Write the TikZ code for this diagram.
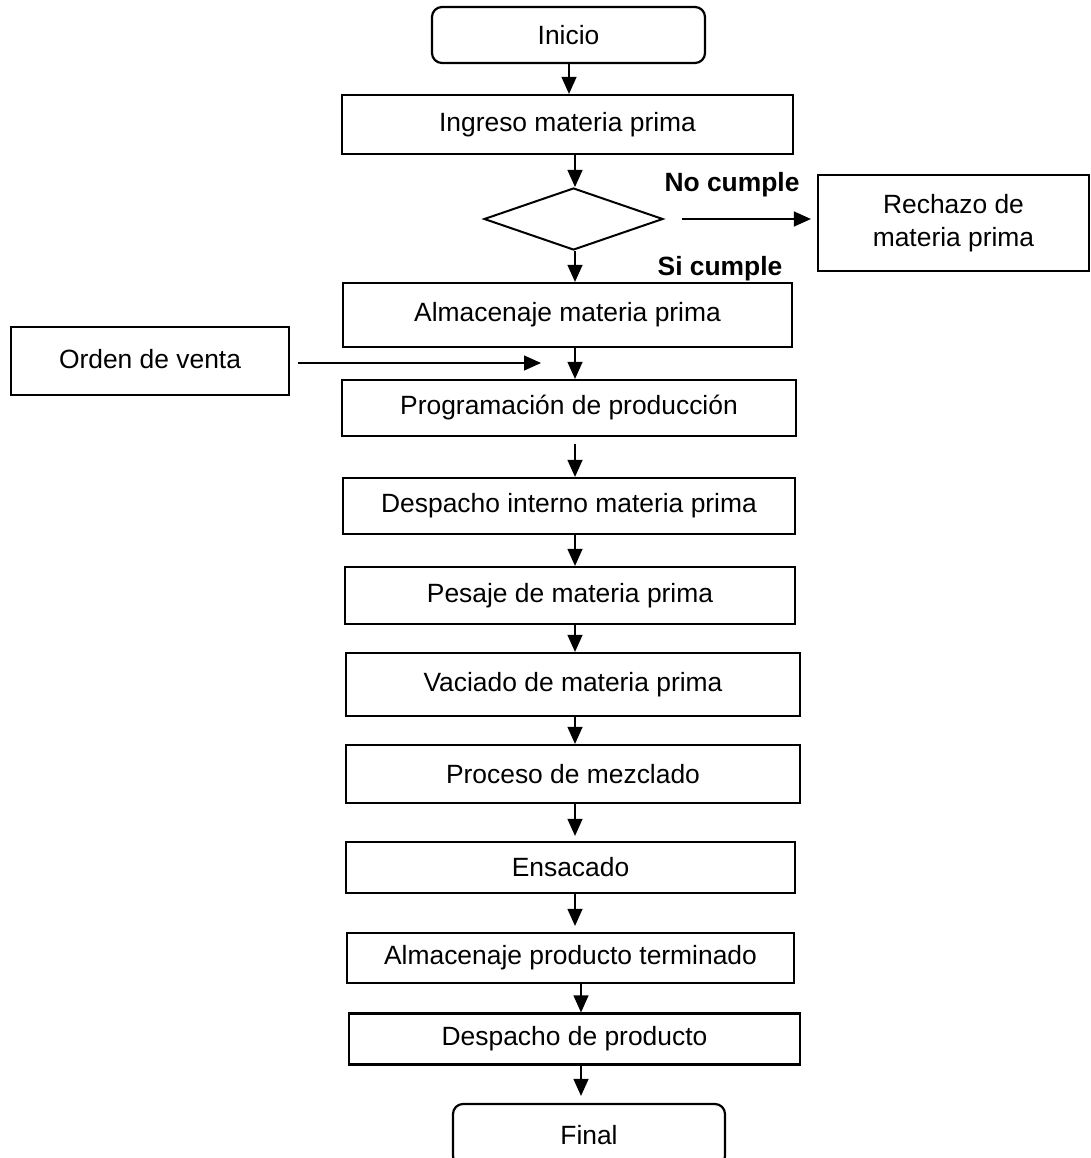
\documentclass[tikz,border=0pt]{standalone}
\usepackage{fontspec}
\setmainfont{Liberation Sans}
\usetikzlibrary{arrows.meta,shapes.geometric}

\begin{document}
\begin{tikzpicture}[x=1pt,y=-1pt,
  every node/.style={font=\fontsize{26.4}{33}\selectfont},
  procbox/.style={draw, line width=2.2pt, rectangle, inner sep=0pt, align=center},
  termbox/.style={draw, line width=2.2pt, rectangle, rounded corners=10pt, inner sep=0pt},
  decision/.style={draw, line width=2pt, diamond, inner sep=0pt},
  tag/.style={font=\fontsize{26.4}{33}\selectfont\bfseries, inner sep=0pt},
  arr/.style={line width=1.2pt, -{Triangle[length=17pt,width=15pt]}}
]
\useasboundingbox (0,0) rectangle (1090,1158);

% terminals
\node[termbox, minimum width=273pt, minimum height=56pt] (inicio) at (568.5,35) {Inicio};
\node[termbox, minimum width=272pt, minimum height=62pt] (final) at (589,1135) {Final};

% main column of process steps
\node[procbox, minimum width=451pt, minimum height=59pt] (ingreso) at (567.5,124.5) {Ingreso materia prima};
\node[decision, minimum width=179pt, minimum height=62pt] (dec) at (573.5,219) {};
\node[procbox, minimum width=449pt, minimum height=64pt] (almmp) at (567.5,315) {Almacenaje materia prima};
\node[procbox, minimum width=454pt, minimum height=56pt] (prog) at (569,408) {Programación de producción};
\node[procbox, minimum width=452pt, minimum height=56pt] (desp) at (569,506) {Despacho interno materia prima};
\node[procbox, minimum width=450pt, minimum height=57pt] (pesaje) at (570,595.5) {Pesaje de materia prima};
\node[procbox, minimum width=454pt, minimum height=63pt] (vaciado) at (573,684.5) {Vaciado de materia prima};
\node[procbox, minimum width=454pt, minimum height=58pt] (mezcla) at (573,774) {Proceso de mezclado};
\node[procbox, minimum width=449pt, minimum height=51pt] (ensacado) at (570.5,867.5) {Ensacado};
\node[procbox, minimum width=447pt, minimum height=50pt] (almpt) at (570.5,958) {Almacenaje producto terminado};
\node[procbox, minimum width=451pt, minimum height=51pt] (despprod) at (574.5,1039) {Despacho de producto};

% side boxes
\node[procbox, minimum width=271pt, minimum height=96pt] (rechazo) at (953.5,223) {Rechazo de\\materia prima};
\node[procbox, minimum width=278pt, minimum height=68pt] (orden) at (150,361) {\raisebox{5pt}{Orden de venta}};

% decision labels
\node[tag] (nocumple) at (732,185) {No cumple};
\node[tag] (sicumple) at (720,269) {Si cumple};

% vertical guide lines for the connectors
\coordinate (sa) at (569,0);
\coordinate (sb) at (575,0);
\coordinate (sc) at (581,0);
\coordinate (ordenend) at (541,0);

% connectors
\draw[arr] (inicio.south -| sa) -- (ingreso.north -| sa);
\draw[arr] (ingreso.south -| sb) -- (dec.north -| sb);
\draw[arr] (dec.south -| sb) -- (almmp.north -| sb);
\draw[arr] (almmp.south -| sb) -- (prog.north -| sb);
\draw[arr, shorten <=7pt] (prog.south -| sb) -- (desp.north -| sb);
\draw[arr] (desp.south -| sb) -- (pesaje.north -| sb);
\draw[arr] (pesaje.south -| sb) -- (vaciado.north -| sb);
\draw[arr] (vaciado.south -| sb) -- (mezcla.north -| sb);
\draw[arr, shorten >=5pt] (mezcla.south -| sb) -- (ensacado.north -| sb);
\draw[arr, shorten >=6pt] (ensacado.south -| sb) -- (almpt.north -| sb);
\draw[arr] (almpt.south -| sc) -- (despprod.north -| sc);
\draw[arr, shorten >=7pt] (despprod.south -| sc) -- (final.north -| sc);

\draw[arr, shorten <=18pt, shorten >=6pt] (dec.east) -- (dec.east -| rechazo.west);
\draw[arr, shorten <=8pt] (orden.east) ++(0,2) -- ([yshift=-2pt]orden.east -| ordenend);
\end{tikzpicture}
\end{document}
